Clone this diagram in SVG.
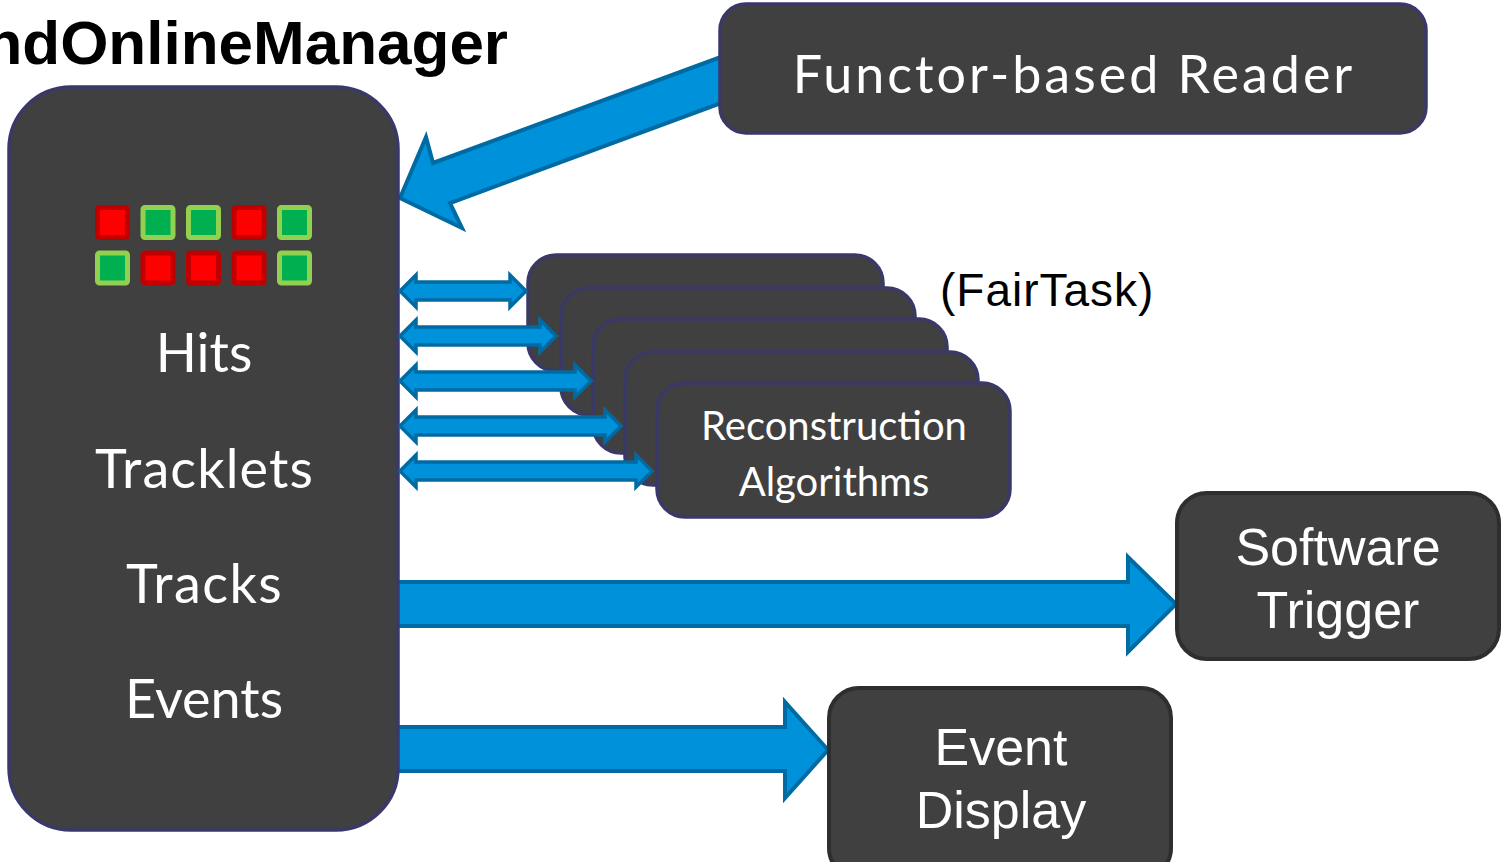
<svg xmlns="http://www.w3.org/2000/svg" width="1506" height="862" viewBox="0 0 1506 862">
  <style>
    .node { fill: #404040; stroke: #3a3868; stroke-width: 3.5; }
    .node-dark { fill: #404040; stroke: #2e2e2e; stroke-width: 4; }
    .arrow { fill: #0091db; stroke: #006ba3; stroke-width: 4; stroke-linejoin: miter; }
    .arrow-thin { fill: #0091db; stroke: #006ba3; stroke-width: 3.5; stroke-linejoin: miter; }
    .label { fill: #ffffff; font-family: Lato, "Open Sans", sans-serif; text-anchor: middle; }
    .label-arial { fill: #ffffff; font-family: "Liberation Sans", Arial, sans-serif; text-anchor: middle; font-size: 52px; }
    .hit-red { fill: #ff0000; stroke: #c00000; stroke-width: 5; }
    .hit-green { fill: #00b050; stroke: #92d050; stroke-width: 5; }
  </style>

  <rect width="1506" height="862" fill="#ffffff"/>

  <!-- title, clipped at the left edge -->
  <text x="508" y="64" font-family="'Liberation Sans', Arial, sans-serif" font-weight="bold" font-size="62" text-anchor="end" fill="#000000">ndOnlineManager</text>

  <!-- connectors -->
  <g id="connectors">
    <!-- reader to manager -->
    <polygon class="arrow" points="740,50 433,163 426,137 400,198 462,228 450,203 740,96"/>
    <!-- manager to software trigger -->
    <polygon class="arrow" points="396,582 1128,582 1128,557 1176,604 1128,652 1128,626 396,626"/>
    <!-- manager to event display -->
    <polygon class="arrow" points="396,727 785,727 785,702 828,750 785,798 785,771 396,771"/>
  </g>

  <!-- data manager -->
  <g id="manager">
    <rect class="node" x="9" y="87" width="389" height="743" rx="62" ry="62"/>
    <g id="hits-grid">
      <rect class="hit-red" x="97.5" y="207.5" width="30" height="30" rx="2"/>
      <rect class="hit-green" x="143" y="207.5" width="30" height="30" rx="2"/>
      <rect class="hit-green" x="188.5" y="207.5" width="30" height="30" rx="2"/>
      <rect class="hit-red" x="234" y="207.5" width="30" height="30" rx="2"/>
      <rect class="hit-green" x="279.5" y="207.5" width="30" height="30" rx="2"/>
      <rect class="hit-green" x="97.5" y="253" width="30" height="30" rx="2"/>
      <rect class="hit-red" x="143" y="253" width="30" height="30" rx="2"/>
      <rect class="hit-red" x="188.5" y="253" width="30" height="30" rx="2"/>
      <rect class="hit-red" x="234" y="253" width="30" height="30" rx="2"/>
      <rect class="hit-green" x="279.5" y="253" width="30" height="30" rx="2"/>
    </g>
    <text class="label" x="204" y="372" font-size="54">Hits</text>
    <text class="label" x="204.5" y="488" font-size="54" letter-spacing="1.1">Tracklets</text>
    <text class="label" x="204.5" y="603" font-size="54" letter-spacing="1.4">Tracks</text>
    <text class="label" x="204" y="718" font-size="54">Events</text>
  </g>

  <!-- reader -->
  <g id="reader">
    <rect class="node" x="720" y="4" width="706" height="129" rx="26" ry="26"/>
    <text class="label" x="1074" y="93" font-size="52" letter-spacing="3">Functor-based Reader</text>
  </g>

  <!-- stacked task boxes -->
  <g id="tasks">
    <rect class="node" x="528" y="255" width="355" height="116" rx="28" ry="28"/>
    <rect class="node" x="561" y="288" width="354" height="127" rx="28" ry="28"/>
    <rect class="node" x="593" y="319" width="354" height="134" rx="28" ry="28"/>
    <rect class="node" x="625" y="352" width="353" height="133" rx="28" ry="28"/>
    <rect class="node" x="657" y="383" width="353" height="134" rx="28" ry="28"/>
    <text class="label" x="834" y="440" font-size="40">Reconstruction</text>
    <text class="label" x="834" y="496" font-size="40">Algorithms</text>
    <text x="940" y="306" font-family="'Liberation Sans', Arial, sans-serif" font-size="46" letter-spacing="1" fill="#000000">(FairTask)</text>
  </g>

  <!-- manager to task links -->
  <g id="task-links">
    <polygon class="arrow-thin" points="400,291 416,275 416,282 510,282 510,275 526,291 510,307 510,300 416,300 416,307"/>
    <polygon class="arrow-thin" points="400,336 416,320 416,327 540,327 540,320 556,336 540,352 540,345 416,345 416,352"/>
    <polygon class="arrow-thin" points="400,381 416,365 416,372 575,372 575,365 591,381 575,397 575,390 416,390 416,397"/>
    <polygon class="arrow-thin" points="400,426 416,410 416,417 605,417 605,410 621,426 605,442 605,435 416,435 416,442"/>
    <polygon class="arrow-thin" points="400,471 416,455 416,462 636,462 636,455 652,471 636,487 636,480 416,480 416,487"/>
  </g>

  <!-- software trigger -->
  <g id="software-trigger">
    <rect class="node-dark" x="1177" y="493" width="322" height="166" rx="30" ry="30"/>
    <text class="label-arial" x="1338" y="565">Software</text>
    <text class="label-arial" x="1338" y="628">Trigger</text>
  </g>

  <!-- event display -->
  <g id="event-display">
    <rect class="node-dark" x="829" y="688" width="342" height="190" rx="30" ry="30"/>
    <text class="label-arial" x="1001" y="765">Event</text>
    <text class="label-arial" x="1001" y="828">Display</text>
  </g>
</svg>
